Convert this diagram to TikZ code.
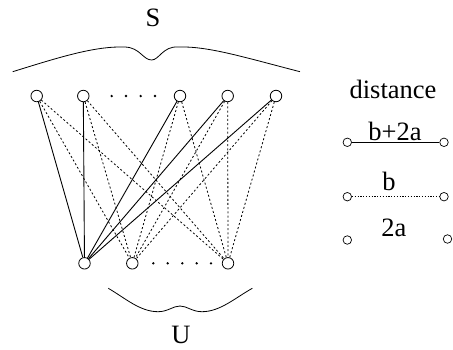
\documentclass[tikz,border=0pt]{standalone}
\usepackage{fontspec}
\setmainfont{Liberation Serif}
\begin{document}
\begin{tikzpicture}[x=1pt,y=-1pt,
  vtx/.style={circle,draw,line width=0.8pt,minimum size=11.5pt,inner sep=0pt},
  lvtx/.style={circle,draw,line width=0.7pt,minimum size=8.5pt,inner sep=0pt},
  solidedge/.style={line width=0.9pt},
  dotedge/.style={line width=0.8pt,dash pattern=on 2pt off 2.2pt},
  dotmark/.style={circle,fill,inner sep=0pt,minimum size=2.6pt},
  lbl/.style={font=\fontsize{26.5}{30}\selectfont,inner sep=0pt}]
\useasboundingbox (0,0) rectangle (453,349);
% top nodes
\node[vtx] (t1) at (36.7,96) {};
\node[vtx] (t2) at (83.3,96) {};
\node[vtx] (t3) at (180,96) {};
\node[vtx] (t4) at (227.7,96) {};
\node[vtx] (t5) at (276,96) {};
\foreach \x [count=\i] in {111.7,126,140.7,155} \node[dotmark] (td\i) at (\x,96) {};
% bottom nodes
\node[vtx] (b1) at (84.5,263.3) {};
\node[vtx] (b2) at (132.3,263.3) {};
\node[vtx] (b3) at (228,263.3) {};
\foreach \x [count=\i] in {153.3,167.7,182.3,196.7,211} \node[dotmark] (bd\i) at (\x,263.3) {};
% edges
\foreach \t in {t1,t2,t3,t4,t5} {
  \draw[solidedge] (\t) -- (b1);
  \draw[dotedge] (\t) -- (b2);
  \draw[dotedge] (\t) -- (b3);
}
% braces
\coordinate (sa) at (12.7,71.7);
\coordinate (sb) at (300,71.7);
\coordinate (sm) at (151.7,60);
\draw[line width=0.8pt] (sa) .. controls (60,57) and (95,46) .. (125,47)
  .. controls (140,47.5) and (143,60) .. (sm)
  .. controls (159,60) and (163,46) .. (178,47)
  .. controls (208,46) and (243,57) .. (sb);
\node[lbl] (S) at (153,18) {S};
\coordinate (ua) at (108.3,288.3);
\coordinate (ub) at (252.3,288.3);
\draw[line width=0.8pt] (ua) .. controls (125,298) and (140,311.7) .. (158,311.7)
  .. controls (168,311.7) and (173,306) .. (180,306)
  .. controls (187,306) and (192,311.7) .. (202,311.7)
  .. controls (220,311.7) and (235,298) .. (ub);
\node[lbl] (U) at (181,334.5) {U};
% legend
\node[lbl] (dist) at (393,89.3) {distance};
\node[lvtx] (l1a) at (347.3,142.3) {};
\node[lvtx] (l1b) at (444,142.3) {};
\draw[line width=0.8pt] (l1a) -- (l1b);
\node[lbl] (l1t) at (395,131.7) {b+2a};
\node[lvtx] (l2a) at (347.3,196.7) {};
\node[lvtx] (l2b) at (444,196.7) {};
\draw[line width=0.7pt,dash pattern=on 1.3pt off 1.5pt] (l2a) -- (l2b);
\node[lbl] (l2t) at (389,181.7) {b};
\node[lvtx] (l3a) at (347.3,240) {};
\node[lvtx] (l3b) at (447.5,239) {};
\node[lbl] (l3t) at (394,228) {2a};
\end{tikzpicture}
\end{document}
